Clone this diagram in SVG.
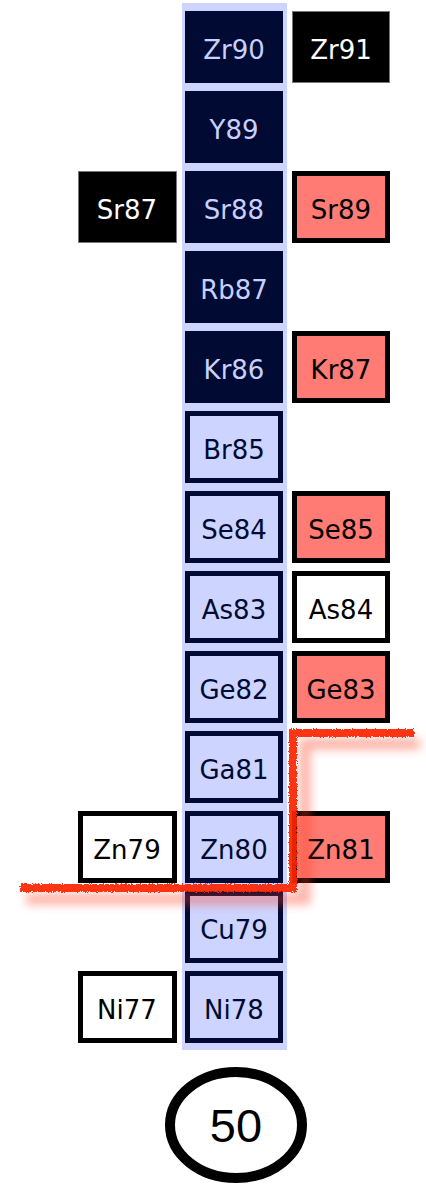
<svg xmlns="http://www.w3.org/2000/svg" width="426" height="1184" viewBox="0 0 426 1184">
  <defs>
    <style>
      .lbl { font-family: "DejaVu Sans", "Liberation Sans", sans-serif; font-size: 26px; text-anchor: middle; }
      .core rect { fill: #000a33; stroke: #000a33; stroke-width: 1; }
      .core text { fill: #c8d0ff; }
      .shell rect { fill: #ccd4ff; stroke: #000a33; stroke-width: 5; }
      .shell text { fill: #000a33; }
      .stable rect { fill: #000000; stroke: #777777; stroke-width: 1; }
      .stable text { fill: #ffffff; }
      .hot rect { fill: #ff7b73; stroke: #000000; stroke-width: 5; }
      .hot text { fill: #000000; }
      .plain rect { fill: #ffffff; stroke: #000000; stroke-width: 5; }
      .plain text { fill: #000000; }
    </style>
    <filter id="rough" x="-5%" y="-20%" width="110%" height="140%">
      <feTurbulence type="fractalNoise" baseFrequency="0.9" numOctaves="2" seed="3" result="n"/>
      <feDisplacementMap in="SourceGraphic" in2="n" scale="4" xChannelSelector="R" yChannelSelector="G"/>
    </filter>
    <filter id="glow" x="-10%" y="-30%" width="120%" height="160%">
      <feGaussianBlur stdDeviation="5"/>
    </filter>
  </defs>

  <!-- N = 50 column backdrop -->
  <rect id="column" x="182" y="3" width="105" height="1047" fill="#ccd4ff"/>

  <!-- central column: N = 50 isotones -->
  <g id="Zr90" class="core"><rect x="185.5" y="11.5" width="97" height="71"/><text class="lbl" x="234" y="59">Zr90</text></g>
  <g id="Y89" class="core"><rect x="185.5" y="91.5" width="97" height="71"/><text class="lbl" x="234" y="139">Y89</text></g>
  <g id="Sr88" class="core"><rect x="185.5" y="171.5" width="97" height="71"/><text class="lbl" x="234" y="219">Sr88</text></g>
  <g id="Rb87" class="core"><rect x="185.5" y="251.5" width="97" height="71"/><text class="lbl" x="234" y="299">Rb87</text></g>
  <g id="Kr86" class="core"><rect x="185.5" y="331.5" width="97" height="71"/><text class="lbl" x="234" y="379">Kr86</text></g>
  <g id="Br85" class="shell"><rect x="187.5" y="413.5" width="93" height="67"/><text class="lbl" x="234" y="459">Br85</text></g>
  <g id="Se84" class="shell"><rect x="187.5" y="493.5" width="93" height="67"/><text class="lbl" x="234" y="539">Se84</text></g>
  <g id="As83" class="shell"><rect x="187.5" y="573.5" width="93" height="67"/><text class="lbl" x="234" y="619">As83</text></g>
  <g id="Ge82" class="shell"><rect x="187.5" y="653.5" width="93" height="67"/><text class="lbl" x="234" y="699">Ge82</text></g>
  <g id="Ga81" class="shell"><rect x="187.5" y="733.5" width="93" height="67"/><text class="lbl" x="234" y="779">Ga81</text></g>
  <g id="Zn80" class="shell"><rect x="187.5" y="813.5" width="93" height="67"/><text class="lbl" x="234" y="859">Zn80</text></g>
  <g id="Cu79" class="shell"><rect x="187.5" y="893.5" width="93" height="67"/><text class="lbl" x="234" y="939">Cu79</text></g>
  <g id="Ni78" class="shell"><rect x="187.5" y="973.5" width="93" height="67"/><text class="lbl" x="234" y="1019">Ni78</text></g>

  <!-- right column: N = 51 -->
  <g id="Zr91" class="stable"><rect x="292.5" y="11.5" width="97" height="71"/><text class="lbl" x="341" y="59">Zr91</text></g>
  <g id="Sr89" class="hot"><rect x="294.5" y="173.5" width="93" height="67"/><text class="lbl" x="341" y="219">Sr89</text></g>
  <g id="Kr87" class="hot"><rect x="294.5" y="333.5" width="93" height="67"/><text class="lbl" x="341" y="379">Kr87</text></g>
  <g id="Se85" class="hot"><rect x="294.5" y="493.5" width="93" height="67"/><text class="lbl" x="341" y="539">Se85</text></g>
  <g id="As84" class="plain"><rect x="294.5" y="573.5" width="93" height="67"/><text class="lbl" x="341" y="619">As84</text></g>
  <g id="Ge83" class="hot"><rect x="294.5" y="653.5" width="93" height="67"/><text class="lbl" x="341" y="699">Ge83</text></g>
  <g id="Zn81" class="hot"><rect x="294.5" y="813.5" width="93" height="67"/><text class="lbl" x="341" y="859">Zn81</text></g>

  <!-- left column: N = 49 -->
  <g id="Sr87" class="stable"><rect x="78.5" y="171.5" width="98" height="71"/><text class="lbl" x="127" y="219">Sr87</text></g>
  <g id="Zn79" class="plain"><rect x="80.5" y="813.5" width="94" height="67"/><text class="lbl" x="127" y="859">Zn79</text></g>
  <g id="Ni77" class="plain"><rect x="80.5" y="973.5" width="94" height="67"/><text class="lbl" x="127" y="1019">Ni77</text></g>

  <!-- drip line boundary -->
  <g id="connectors">
    <path d="M26 899 H305 V744 H420" fill="none" stroke="#ff3b1f" stroke-width="11" opacity="0.4" filter="url(#glow)"/>
    <path d="M20 888 H293 V733 H414" fill="none" stroke="#ff2200" stroke-width="8" stroke-opacity="0.92" stroke-linejoin="miter" filter="url(#rough)"/>
  </g>

  <!-- magic number label -->
  <g id="magic50">
    <ellipse cx="236" cy="1125" rx="66" ry="53" fill="#ffffff" stroke="#000000" stroke-width="10"/>
    <text x="236" y="1142" font-family="Liberation Sans, sans-serif" font-size="47" text-anchor="middle" fill="#000000">50</text>
  </g>
</svg>
